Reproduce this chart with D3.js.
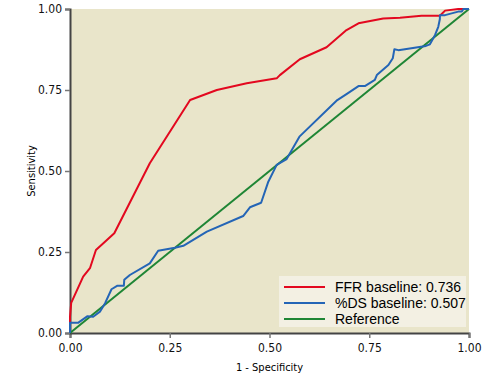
<!DOCTYPE html>
<html>
<head>
<meta charset="utf-8">
<script src="https://cdn.jsdelivr.net/npm/d3@7"></script>
<style>
body { margin:0; background:#fff; }
text { font-family: "DejaVu Sans Condensed", "Liberation Sans Narrow", sans-serif; font-stretch: condensed; }
</style>
</head>
<body>
<div id="chart"></div>
<script>
// ROC curves, values
var ffrFpr = [0, 0, 0.003, 0.033, 0.050, 0.065, 0.111, 0.200, 0.301, 0.368, 0.443, 0.518, 0.526, 0.576, 0.643, 0.693, 0.723, 0.785, 0.827, 0.881, 0.927, 0.940, 0.973, 1];
var ffrTpr = [0, 0.05, 0.093, 0.174, 0.200, 0.256, 0.308, 0.524, 0.719, 0.750, 0.771, 0.786, 0.796, 0.845, 0.882, 0.935, 0.956, 0.971, 0.973, 0.979, 0.979, 0.995, 1.0, 1];
var dsFpr = [0, 0, 0.021, 0.044, 0.058, 0.075, 0.088, 0.104, 0.119, 0.135, 0.136, 0.150, 0.200, 0.221, 0.263, 0.284, 0.343, 0.434, 0.451, 0.479, 0.497, 0.518, 0.543, 0.575, 0.668, 0.693, 0.723, 0.739, 0.764, 0.769, 0.798, 0.809, 0.813, 0.823, 0.892, 0.902, 0.915, 0.923, 0.927, 0.927, 0.940, 0.973, 0.982, 0.986, 1];
var dsTpr = [0, 0.032, 0.032, 0.052, 0.050, 0.066, 0.092, 0.135, 0.146, 0.146, 0.164, 0.179, 0.215, 0.254, 0.263, 0.269, 0.313, 0.361, 0.388, 0.402, 0.467, 0.519, 0.537, 0.606, 0.717, 0.737, 0.762, 0.762, 0.781, 0.796, 0.827, 0.848, 0.876, 0.873, 0.886, 0.891, 0.920, 0.945, 0.969, 0.981, 0.981, 0.992, 0.992, 1.0, 1];
var refFpr = [0, 1];
var refTpr = [0, 1];
var tickVals = [0, 0.25, 0.5, 0.75, 1];
var legendLabels = ['FFR baseline: 0.736', '%DS baseline: 0.507', 'Reference'];

var W = 502, H = 378;
var m = {l:70, t:9, r:33, b:45};
var svg = d3.select('#chart').append('svg').attr('width', W).attr('height', H);
var x = d3.scaleLinear().domain([0,1]).range([m.l, W-m.r]);
var y = d3.scaleLinear().domain([0,1]).range([H-m.b, m.t]);

svg.append('rect').attr('x', x(0)).attr('y', y(1))
    .attr('width', x(1)-x(0)).attr('height', y(0)-y(1)).style('fill', '#e9e5ca');

var fmt = d3.format('.2f');
var xAx = svg.append('g').attr('transform', 'translate(0,'+y(0)+')')
    .call(d3.axisBottom(x).tickValues(tickVals).tickFormat(fmt).tickSizeOuter(0).tickSize(5).tickPadding(5));
var yAx = svg.append('g').attr('transform', 'translate('+x(0)+',0)')
    .call(d3.axisLeft(y).tickValues(tickVals).tickFormat(fmt).tickSizeOuter(0).tickSize(5).tickPadding(3));
[xAx, yAx].forEach(function(a) {
    a.select('.domain').style('stroke', '#444').style('stroke-width', 2);
    a.selectAll('.tick line').style('stroke', '#777').style('stroke-width', 1.5);
    a.selectAll('.tick text').style('font-size', '12px').style('fill', '#111')
        .style('font-family', '"DejaVu Sans Condensed", "Liberation Sans Narrow", sans-serif');
});

svg.append('text').attr('x', x(0.5)).attr('y', 371).attr('text-anchor', 'middle')
    .style('font-size', '11px').text('1 - Specificity');
svg.append('text').attr('transform', 'translate(35,'+y(0.5)+') rotate(-90)')
    .attr('text-anchor', 'middle').style('font-size', '11px').text('Sensitivity');

var series = [
    {fx: ffrFpr, ty: ffrTpr, c: '#e3081f'},
    {fx: dsFpr, ty: dsTpr, c: '#2465b6'},
    {fx: refFpr, ty: refTpr, c: '#1f8635'}
];
var line = d3.line().x(function(d){return x(d[0]);}).y(function(d){return y(d[1]);});
// reference drawn first, under the curves
[2, 0, 1].forEach(function(i) {
    var s = series[i];
    svg.append('path').datum(d3.zip(s.fx, s.ty)).attr('d', line)
        .style('fill', 'none').style('stroke', s.c).style('stroke-width', 2)
        .style('stroke-linejoin', 'round');
});

// legend
var lg = svg.append('g').attr('transform', 'translate(279,276)');
lg.append('rect').attr('width', 187).attr('height', 51).style('fill', '#f3f0e3');
var row = lg.selectAll('g.row').data(legendLabels).enter().append('g')
    .attr('transform', function(d,i){return 'translate(0,'+(11+i*16)+')';});
row.append('line').attr('x1', 5).attr('x2', 46).attr('y1', 0).attr('y2', 0)
    .style('stroke', function(d,i){return series[i].c;}).style('stroke-width', 2);
row.append('text').attr('x', 56).attr('y', 5).style('font-size', '14px')
    .style('font-family', '"Liberation Sans", Arial, sans-serif').style('font-stretch', 'normal')
    .text(function(d){return d;});
</script>
</body>
</html>
